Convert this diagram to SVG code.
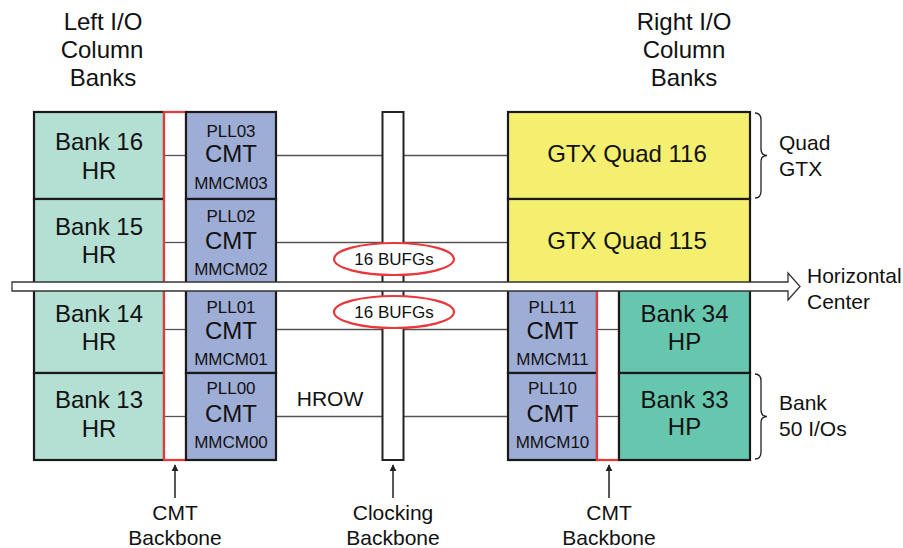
<svg xmlns="http://www.w3.org/2000/svg" width="903" height="548" viewBox="0 0 903 548">
<defs>
<style>
text{font-family:"Liberation Sans",Arial,sans-serif;fill:#111;text-anchor:middle}
.big{font-size:24px}
.sm{font-size:17px}
.lbl{font-size:21px}
.lft{text-anchor:start}
.box{stroke:#1a1a1a;stroke-width:2.2}
.hr{fill:#b4dfd3}
.cmt{fill:#9eadd6}
.gtx{fill:#f5ef70}
.hp{fill:#66c6ae}
.red{fill:#fff;stroke:#e8383b;stroke-width:2.2}
.wire{stroke:#555;stroke-width:1.3;fill:none}
.brace{stroke:#222;stroke-width:1.3;fill:none}
.arr{stroke:#222;stroke-width:1.5}
</style>
<marker id="ah" viewBox="0 0 10 10" refX="9" refY="5" markerWidth="7" markerHeight="10" markerUnits="userSpaceOnUse" orient="auto">
<path d="M0,0 L10,5 L0,10 Z" fill="#222"/>
</marker>
</defs>
<rect width="903" height="548" fill="#fff"/>

<g id="title-left">
<text class="big" x="103" y="30">Left I/O</text>
<text class="big" x="102" y="58">Column</text>
<text class="big" x="103" y="86">Banks</text>
</g>
<g id="title-right">
<text class="big" x="684" y="30">Right I/O</text>
<text class="big" x="684" y="58">Column</text>
<text class="big" x="684" y="86">Banks</text>
</g>

<g id="connectors">
<line class="wire" x1="276" y1="155.5" x2="508" y2="155.5"/>
<line class="wire" x1="276" y1="242.5" x2="508" y2="242.5"/>
<line class="wire" x1="276" y1="329.5" x2="508" y2="329.5"/>
<line class="wire" x1="276" y1="416.5" x2="508" y2="416.5"/>
<line class="arr" x1="175" y1="498" x2="175" y2="465" marker-end="url(#ah)"/>
<line class="arr" x1="393" y1="498" x2="393" y2="465" marker-end="url(#ah)"/>
<line class="arr" x1="609" y1="498" x2="609" y2="465" marker-end="url(#ah)"/>
</g>

<g id="bank16"><rect class="box hr" x="34" y="112" width="130" height="87"/><text class="big" x="99" y="150">Bank 16</text><text class="big" x="99" y="179">HR</text></g>
<g id="bank15"><rect class="box hr" x="34" y="199" width="130" height="87"/><text class="big" x="99" y="235">Bank 15</text><text class="big" x="99" y="263">HR</text></g>
<g id="bank14"><rect class="box hr" x="34" y="286" width="130" height="87"/><text class="big" x="99" y="322">Bank 14</text><text class="big" x="99" y="350">HR</text></g>
<g id="bank13"><rect class="box hr" x="34" y="373" width="130" height="87"/><text class="big" x="99" y="408">Bank 13</text><text class="big" x="99" y="437">HR</text></g>

<g id="cmt-backbone-left">
<rect class="red" x="164" y="112" width="22" height="348"/>
<line class="wire" x1="165" y1="155.5" x2="185" y2="155.5"/>
<line class="wire" x1="165" y1="242.5" x2="185" y2="242.5"/>
<line class="wire" x1="165" y1="329.5" x2="185" y2="329.5"/>
<line class="wire" x1="165" y1="416.5" x2="185" y2="416.5"/>
</g>

<g id="cmt03"><rect class="box cmt" x="186" y="112" width="90" height="87"/><text class="sm" x="231" y="137">PLL03</text><text class="big" x="231" y="162">CMT</text><text class="sm" x="231" y="189">MMCM03</text></g>
<g id="cmt02"><rect class="box cmt" x="186" y="199" width="90" height="87"/><text class="sm" x="231" y="222">PLL02</text><text class="big" x="231" y="249">CMT</text><text class="sm" x="231" y="275">MMCM02</text></g>
<g id="cmt01"><rect class="box cmt" x="186" y="286" width="90" height="87"/><text class="sm" x="231" y="313">PLL01</text><text class="big" x="231" y="339">CMT</text><text class="sm" x="231" y="365">MMCM01</text></g>
<g id="cmt00"><rect class="box cmt" x="186" y="373" width="90" height="87"/><text class="sm" x="231" y="394">PLL00</text><text class="big" x="231" y="422">CMT</text><text class="sm" x="231" y="448">MMCM00</text></g>

<g id="hrow"><text class="lbl" x="330" y="406">HROW</text></g>

<g id="clocking-backbone"><rect x="382.5" y="112" width="21" height="348" fill="#fff" stroke="#222" stroke-width="2"/></g>

<g id="bufg-top"><ellipse cx="394" cy="259" rx="60" ry="16" fill="#fff" stroke="#e8383b" stroke-width="2.2"/><text class="sm" x="394" y="265">16 BUFGs</text></g>
<g id="bufg-bottom"><ellipse cx="394" cy="312" rx="60" ry="16" fill="#fff" stroke="#e8383b" stroke-width="2.2"/><text class="sm" x="394" y="318">16 BUFGs</text></g>

<g id="gtx116"><rect class="box gtx" x="508" y="112" width="242" height="87"/><text class="big" x="627" y="162">GTX Quad 116</text></g>
<g id="gtx115"><rect class="box gtx" x="508" y="199" width="242" height="87"/><text class="big" x="627" y="249">GTX Quad 115</text></g>

<g id="cmt11"><rect class="box cmt" x="508" y="286" width="89" height="87"/><text class="sm" x="552.5" y="313">PLL11</text><text class="big" x="552.5" y="339">CMT</text><text class="sm" x="552.5" y="365">MMCM11</text></g>
<g id="cmt10"><rect class="box cmt" x="508" y="373" width="89" height="87"/><text class="sm" x="552.5" y="394">PLL10</text><text class="big" x="552.5" y="422">CMT</text><text class="sm" x="552.5" y="448">MMCM10</text></g>

<g id="cmt-backbone-right">
<rect class="red" x="597" y="286" width="22" height="174"/>
<line class="wire" x1="598" y1="329.5" x2="618" y2="329.5"/>
<line class="wire" x1="598" y1="416.5" x2="618" y2="416.5"/>
</g>

<g id="bank34"><rect class="box hp" x="619" y="286" width="131" height="87"/><text class="big" x="684.5" y="322">Bank 34</text><text class="big" x="684.5" y="350">HP</text></g>
<g id="bank33"><rect class="box hp" x="619" y="373" width="131" height="87"/><text class="big" x="684.5" y="408">Bank 33</text><text class="big" x="684.5" y="435">HP</text></g>

<g id="horizontal-center">
<path d="M12,282 L788,282 L788,273 L800,286.5 L788,300 L788,291 L12,291 Z" fill="#fff" stroke="#333" stroke-width="1.3"/>
<text class="lbl lft" x="807" y="283">Horizontal</text>
<text class="lbl lft" x="807" y="309">Center</text>
</g>

<g id="quad-gtx-brace">
<path class="brace" d="M755,113 Q761,113 761,120 L761,149 Q761,155.5 767,155.5 Q761,155.5 761,162 L761,191 Q761,198 755,198"/>
<text class="lbl lft" x="779" y="150">Quad</text>
<text class="lbl lft" x="779" y="176">GTX</text>
</g>
<g id="bank-io-brace">
<path class="brace" d="M755,374 Q761,374 761,381 L761,410 Q761,416.5 767,416.5 Q761,416.5 761,423 L761,452 Q761,459 755,459"/>
<text class="lbl lft" x="779" y="410">Bank</text>
<text class="lbl lft" x="779" y="436">50 I/Os</text>
</g>

<g id="label-cmt-left"><text class="lbl" x="175" y="520">CMT</text><text class="lbl" x="175" y="545">Backbone</text></g>
<g id="label-clocking"><text class="lbl" x="393" y="520">Clocking</text><text class="lbl" x="393" y="545">Backbone</text></g>
<g id="label-cmt-right"><text class="lbl" x="609" y="520">CMT</text><text class="lbl" x="609" y="545">Backbone</text></g>
</svg>
